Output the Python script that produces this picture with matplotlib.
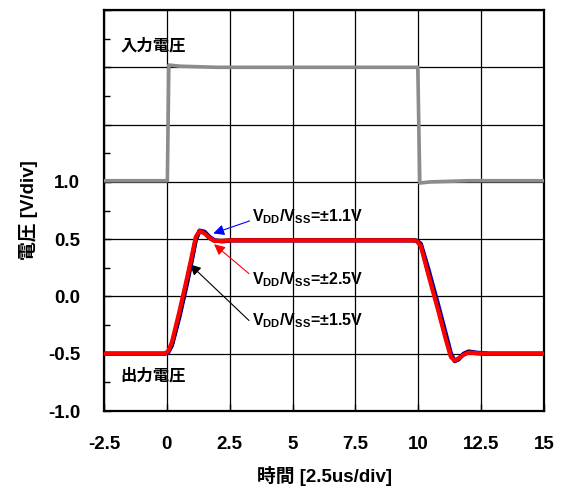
import matplotlib
matplotlib.use("Agg")
import matplotlib.pyplot as plt
from matplotlib.ticker import FixedLocator, FixedFormatter, MultipleLocator

plt.rcParams["font.family"] = ["Liberation Sans", "Noto Sans CJK JP"]
plt.rcParams["font.weight"] = "bold"
plt.rcParams["mathtext.fontset"] = "custom"
plt.rcParams["mathtext.rm"] = "Liberation Sans:bold"
plt.rcParams["mathtext.bf"] = "Liberation Sans:bold"
plt.rcParams["mathtext.it"] = "Liberation Sans:bold"

# input voltage (offset trace, shown at top)
t_in = [-2.5, 0.02, 0.08, 0.5, 2.0, 6.0, 9.9, 9.98, 10.06, 10.5, 12.0, 15.0]
v_in = [1.01, 1.01, 2.02, 2.01, 2.0, 2.0, 2.0, 2.0, 0.99, 1.0, 1.01, 1.01]

# output voltage, three supply settings
t_out = [-2.5, -0.1, 0.05, 0.2, 0.5, 0.8, 1.0, 1.15, 1.3, 1.5, 1.7, 1.9, 2.2, 2.6, 3.5,
         9.8, 9.95, 10.1, 10.4, 10.8, 11.1, 11.3, 11.45, 11.6, 11.8, 12.0, 12.3, 12.8, 15.0]
v_11 = [-0.5, -0.5, -0.49, -0.43, -0.18, 0.11, 0.32, 0.49, 0.575, 0.565, 0.52, 0.49, 0.48, 0.49, 0.49,
        0.49, 0.485, 0.46, 0.24, -0.08, -0.33, -0.5, -0.565, -0.55, -0.5, -0.48, -0.49, -0.5, -0.5]
v_15 = [-0.5, -0.5, -0.485, -0.42, -0.16, 0.13, 0.34, 0.5, 0.57, 0.555, 0.51, 0.485, 0.485, 0.49, 0.49,
        0.49, 0.485, 0.45, 0.21, -0.11, -0.36, -0.52, -0.56, -0.545, -0.505, -0.485, -0.495, -0.5, -0.5]
v_25 = [-0.5, -0.5, -0.48, -0.40, -0.13, 0.16, 0.36, 0.52, 0.57, 0.55, 0.51, 0.485, 0.485, 0.49, 0.49,
        0.49, 0.48, 0.44, 0.19, -0.13, -0.38, -0.53, -0.56, -0.54, -0.51, -0.49, -0.495, -0.5, -0.5]

x_ticks = [-2.5, 0, 2.5, 5, 7.5, 10, 12.5, 15]
x_labels = ["-2.5", "0", "2.5", "5", "7.5", "10", "12.5", "15"]
y_ticks = [-1.0, -0.5, 0.0, 0.5, 1.0, 1.5, 2.0, 2.5]
y_labels = ["-1.0", "-0.5", "0.0", "0.5", "1.0", "", "", ""]

fig = plt.figure(figsize=(5.63, 4.91), dpi=100)
ax = fig.add_axes([0.1847, 0.1629, 0.7816, 0.8167])

ax.set_xlim(-2.5, 15)
ax.set_ylim(-1.0, 2.5)
ax.xaxis.set_major_locator(FixedLocator(x_ticks))
ax.xaxis.set_major_formatter(FixedFormatter(x_labels))
ax.yaxis.set_major_locator(FixedLocator(y_ticks))
ax.yaxis.set_major_formatter(FixedFormatter(y_labels))
ax.yaxis.set_minor_locator(MultipleLocator(0.25))
ax.tick_params(which="both", direction="in", labelsize=13.5)
ax.tick_params(which="major", length=5, width=1)
ax.tick_params(which="minor", length=4, width=1)
ax.tick_params(axis="y", pad=17)
ax.tick_params(axis="x", pad=18)
ax.grid(True, which="major", color="black", lw=0.9)
for sp in ax.spines.values():
    sp.set_linewidth(1.6)

ax.plot(t_in, v_in, color="#8c8c8c", lw=2.6, zorder=3)
ax.plot(t_out, v_11, color="#0000ff", lw=3, zorder=4)
ax.plot(t_out, v_15, color="black", lw=3, zorder=5)
ax.plot(t_out, v_25, color="#ff0000", lw=3, zorder=6)

ax.text(-1.86, 2.19, "入力電圧", fontsize=11.8, fontweight="bold", va="center")
ax.text(-1.86, -0.69, "出力電圧", fontsize=11.8, fontweight="bold", va="center")

lab = r"V$_{\mathrm{DD}}$/V$_{\mathrm{SS}}$=±%sV"
ax.annotate(lab % "1.1", xy=(1.85, 0.55), xytext=(3.4, 0.7), fontsize=11.5, va="center",
            arrowprops=dict(arrowstyle="-|>", color="#0000ff", lw=0.8, mutation_scale=16,
                            shrinkA=0, shrinkB=0, relpos=(0, 0.3)))
ax.annotate(lab % "2.5", xy=(1.88, 0.455), xytext=(3.4, 0.15), fontsize=11.5, va="center",
            arrowprops=dict(arrowstyle="-|>", color="#ff0000", lw=0.8, mutation_scale=16,
                            shrinkA=0, shrinkB=0, relpos=(-0.03, 0.8)))
ax.annotate(lab % "1.5", xy=(0.92, 0.28), xytext=(3.4, -0.21), fontsize=11.5, va="center",
            arrowprops=dict(arrowstyle="-|>", color="black", lw=0.8, mutation_scale=16,
                            shrinkA=0, shrinkB=0, relpos=(-0.03, 0.5)))

ax.set_xlabel("時間 [2.5us/div]", fontsize=13.5, fontweight="bold", labelpad=9)
ax.set_ylabel("電圧 [V/div]", fontsize=13.5, fontweight="bold", labelpad=7)

fig.savefig("out.png", dpi=100)
